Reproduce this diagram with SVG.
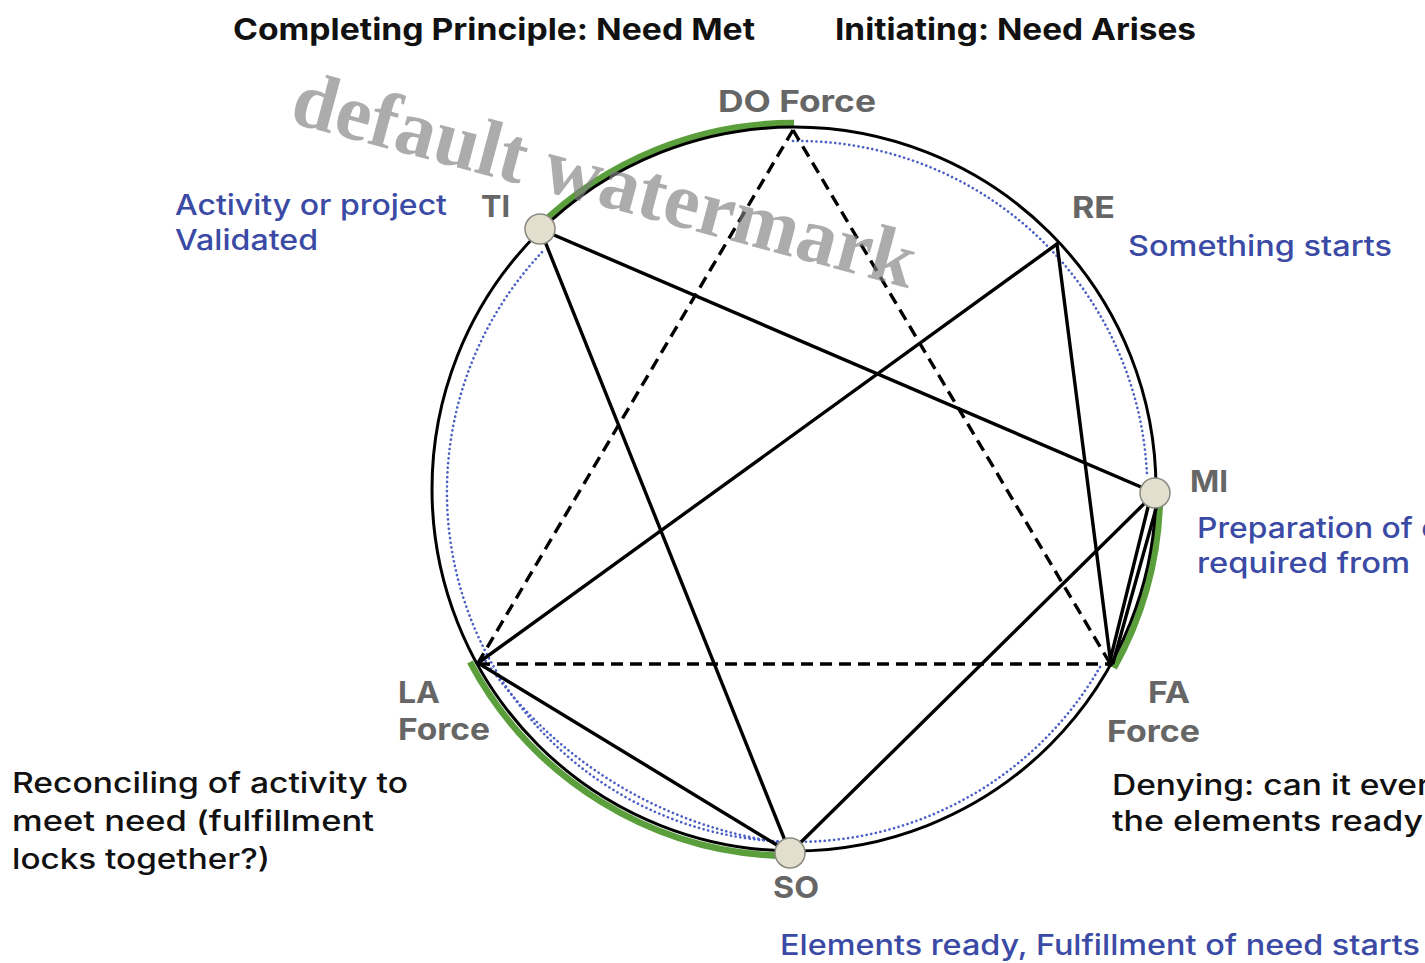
<svg xmlns="http://www.w3.org/2000/svg" width="1425" height="963" viewBox="0 0 1425 963">
<style>
.t{font-family:Inter,"Open Sans","Liberation Sans",sans-serif}
.title{font-size:30px;font-weight:700;fill:#111}
.lab{font-size:30px;font-weight:700;fill:#666}
.blue{font-size:28px;font-weight:500;fill:#3a4aa5}
.blk{font-size:28px;font-weight:500;fill:#111}
.solid{stroke:#000;stroke-width:3.4;fill:none;stroke-linecap:round}
.dash{stroke:#000;stroke-width:3.4;fill:none;stroke-dasharray:12 7}
.dot{stroke:#4a5fc4;stroke-width:2.6;fill:none;stroke-dasharray:0.1 4.6;stroke-linecap:round}
.green{stroke:#5a9f3c;stroke-width:6.5;fill:none}
.node{fill:#e2dfcf;stroke:#8a8a80;stroke-width:1.5}
</style>
<rect width="1425" height="963" fill="#fff"/>
<g id="titles">
<text class="t title" x="233" y="40" textLength="522" lengthAdjust="spacingAndGlyphs">Completing Principle: Need Met</text>
<text class="t title" x="835" y="40" textLength="361" lengthAdjust="spacingAndGlyphs">Initiating: Need Arises</text>
</g>
<g id="ring">
<path class="green" d="M538,227 A366,366 0 0,1 794,123"/>
<path class="green" d="M1160,500 A366,366 0 0,1 1114,668"/>
<path class="green" d="M470,662 A366,366 0 0,0 785,856"/>
<circle cx="794" cy="489" r="362" fill="none" stroke="#000" stroke-width="3"/>
<path class="dot" d="M793,141 A350,350 0 0,1 1147,475"/>
<path class="dot" d="M1100,667 A350,350 0 1,1 544,250"/>
<path class="dot" d="M483,657 A430,430 0 0,0 785,843"/>
</g>
<g id="connectors">
<line class="dash" x1="793" y1="130" x2="478" y2="663"/>
<line class="dash" x1="793" y1="130" x2="1111" y2="665"/>
<line class="dash" x1="478" y1="664" x2="1111" y2="664"/>
<line class="solid" x1="540" y1="229" x2="1155" y2="493"/>
<line class="solid" x1="540" y1="229" x2="790" y2="853"/>
<line class="solid" x1="1057" y1="244" x2="478" y2="663"/>
<line class="solid" x1="1057" y1="244" x2="1111" y2="665"/>
<line class="solid" x1="1155" y1="493" x2="790" y2="853"/>
<line class="solid" x1="1149" y1="503" x2="1109" y2="665"/>
<line class="solid" x1="1157" y1="505" x2="1113" y2="663"/>
<line class="solid" x1="478" y1="663" x2="790" y2="853"/>
</g>
<g id="node-DO"><text class="t lab" x="718" y="112" textLength="158" lengthAdjust="spacingAndGlyphs">DO Force</text></g>
<g id="node-TI">
<circle class="node" cx="540" cy="229" r="15"/>
<text class="t lab" x="481" y="217" textLength="29" lengthAdjust="spacingAndGlyphs">TI</text>
<text class="t blue" x="175" y="215" textLength="272" lengthAdjust="spacingAndGlyphs">Activity or project</text>
<text class="t blue" x="175" y="250" textLength="143" lengthAdjust="spacingAndGlyphs">Validated</text>
</g>
<g id="node-RE">
<text class="t lab" x="1072" y="218" textLength="43" lengthAdjust="spacingAndGlyphs">RE</text>
<text class="t blue" x="1128" y="256" textLength="264" lengthAdjust="spacingAndGlyphs">Something starts</text>
</g>
<g id="node-MI">
<circle class="node" cx="1155" cy="493" r="15"/>
<text class="t lab" x="1190" y="492" textLength="38" lengthAdjust="spacingAndGlyphs">MI</text>
<text class="t blue" x="1197" y="538" textLength="243" lengthAdjust="spacingAndGlyphs">Preparation of e</text>
<text class="t blue" x="1197" y="573" textLength="213" lengthAdjust="spacingAndGlyphs">required from</text>
</g>
<g id="node-FA">
<text class="t lab" x="1148" y="703" textLength="42" lengthAdjust="spacingAndGlyphs">FA</text>
<text class="t lab" x="1107" y="742" textLength="93" lengthAdjust="spacingAndGlyphs">Force</text>
<text class="t blk" x="1112" y="795" textLength="318" lengthAdjust="spacingAndGlyphs">Denying: can it ever</text>
<text class="t blk" x="1112" y="831" textLength="311" lengthAdjust="spacingAndGlyphs">the elements ready</text>
</g>
<g id="node-SO">
<circle class="node" cx="790" cy="853" r="15"/>
<text class="t lab" x="773" y="898" textLength="46" lengthAdjust="spacingAndGlyphs">SO</text>
<text class="t blue" x="780" y="955" textLength="640" lengthAdjust="spacingAndGlyphs">Elements ready, Fulfillment of need starts</text>
</g>
<g id="node-LA">
<text class="t lab" x="398" y="703" textLength="42" lengthAdjust="spacingAndGlyphs">LA</text>
<text class="t lab" x="398" y="740" textLength="92" lengthAdjust="spacingAndGlyphs">Force</text>
<text class="t blk" x="12" y="793" textLength="396" lengthAdjust="spacingAndGlyphs">Reconciling of activity to</text>
<text class="t blk" x="12" y="831" textLength="362" lengthAdjust="spacingAndGlyphs">meet need (fulfillment</text>
<text class="t blk" x="12" y="869" textLength="258" lengthAdjust="spacingAndGlyphs">locks together?)</text>
</g>
<g id="watermark">
<text transform="translate(288,122) rotate(15)" x="0" y="0" font-family="'Liberation Serif',serif" font-weight="700" font-size="80" fill="#808080" fill-opacity="0.65">default watermark</text>
</g>
</svg>
